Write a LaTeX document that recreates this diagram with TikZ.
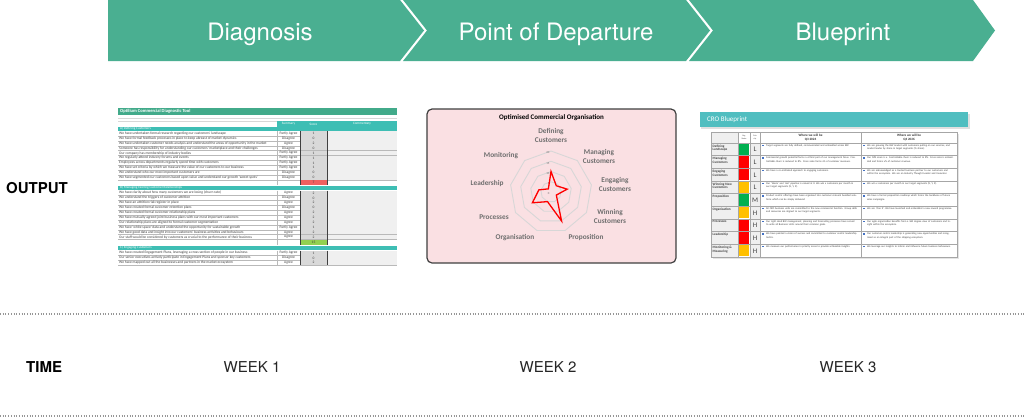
\documentclass[tikz,border=0pt]{standalone}
\usepackage{fontspec}
\setmainfont{TeX Gyre Heros}
\newfontfamily\xl{Carlito}
\definecolor{chev}{RGB}{74,175,145}
\definecolor{dtitle}{RGB}{66,170,138}
\definecolor{turq}{RGB}{62,190,180}
\definecolor{bptitle}{RGB}{80,190,192}
\definecolor{dotgray}{RGB}{150,150,150}
\definecolor{txtdark}{RGB}{64,64,64}
\definecolor{scoregray}{RGB}{217,217,217}
\definecolor{commgray}{RGB}{240,240,240}
\definecolor{gridgray}{RGB}{185,185,185}
\definecolor{pinkbg}{RGB}{250,224,227}
\definecolor{ringgray}{RGB}{215,215,215}
\definecolor{labgray}{RGB}{110,110,110}
\definecolor{totred}{RGB}{240,96,96}
\definecolor{totgreen}{RGB}{146,208,80}
\definecolor{stgreen}{RGB}{0,176,80}
\definecolor{stred}{RGB}{255,0,0}
\definecolor{stamber}{RGB}{255,192,0}
\definecolor{bulblue}{RGB}{68,114,196}
\definecolor{bplabfill}{RGB}{239,239,239}
\definecolor{bpgridc}{RGB}{166,166,166}

\newcommand\drow[5]{%
  \fill[scoregray] (300,#1) rectangle ++(27,4.9);
  \fill[commgray] (327,#1) rectangle ++(70,4.9);
  \draw[dgrid] (118,#1+4.9) -- (397,#1+4.9);
  \node[dtxt,anchor=west] (#2t) at (119,#1+2.45) {#3};
  \node[dtxt] (#2s) at (288.5,#1+2.45) {#4};
  \node[dtxt] (#2n) at (313.5,#1+2.45) {#5};
}
\newcommand\brow[7]{%
  \fill[bplabfill] (711,#1) rectangle (738,#1+12.67);
  \fill[#4] (738.7,#1+0.7) rectangle (749.3,#1+11.97);
  \fill[bplabfill] (750,#1) rectangle (760,#1+12.67);
  \node[bplabel] (#2l) at (712.5,#1+1.5) {#3};
  \node[bpprio] (#2p) at (755,#1+6.6) {#5};
  \node[bpbul] (#2b) at (763,#1+2.4) {};
  \node[bptext,text width=91pt] (#2a) at (766,#1+1.3) {#6};
  \node[bpbul] (#2c) at (864,#1+2.4) {};
  \node[bptext,text width=87pt] (#2d) at (867,#1+1.3) {#7};
}

\begin{document}
\begin{tikzpicture}[x=1pt,y=-1pt,
  chevtxt/.style={text=white,anchor=base,inner sep=0,font=\fontsize{24}{28}\selectfont},
  rowlab/.style={anchor=base west,inner sep=0,font=\bfseries\fontsize{15}{18}\selectfont},
  weeklab/.style={anchor=base,inner sep=0,font=\fontsize{15}{18}\selectfont,text=black!85},
  dotline/.style={draw=dotgray,line width=1.1pt,dash pattern=on 1pt off 1.7pt},
  dgrid/.style={draw=gridgray,line width=0.3pt},
  dtxt/.style={inner sep=0,font=\xl\fontsize{3.6}{4}\selectfont,text=txtdark},
  dhead/.style={inner sep=0,font=\xl\fontsize{3.4}{4}\selectfont,text=white},
  ring/.style={draw=ringgray,line width=0.9pt},
  radlab/.style={align=center,inner sep=0,font=\xl\bfseries\fontsize{7.3}{9}\selectfont,text=labgray},
  ticklab/.style={anchor=east,inner sep=0,font=\xl\fontsize{3}{3}\selectfont,text=labgray},
  bplabel/.style={anchor=north west,align=left,inner sep=0,font=\xl\bfseries\fontsize{3.4}{3.9}\selectfont,text=txtdark},
  bpprio/.style={inner sep=0,font=\xl\fontsize{7}{7}\selectfont,text=txtdark},
  bpbul/.style={fill=bulblue,inner sep=0,minimum size=1.2pt},
  bptext/.style={anchor=north west,align=left,inner sep=0,font=\xl\fontsize{2.6}{3.1}\selectfont,text=txtdark},
  bpgrid/.style={draw=bpgridc,line width=0.5pt},
  bphead/.style={align=center,inner sep=0,font=\xl\bfseries\fontsize{3.3}{3.9}\selectfont,text=black!80},
  bpsmall/.style={align=center,inner sep=0,font=\xl\fontsize{2}{2.4}\selectfont,text=txtdark}]
\useasboundingbox (0,0) rectangle (1024,418);
\fill[white] (0,0) rectangle (1024,418);

% ---------- chevrons ----------
\fill[chev] (108,0) -- (400,0) -- (424,30.5) -- (400,61) -- (108,61) -- cycle;
\fill[chev] (403,0) -- (686,0) -- (710,30.5) -- (686,61) -- (403,61) -- (427,30.5) -- cycle;
\fill[chev] (689,0) -- (973,0) -- (995,30.5) -- (973,61) -- (689,61) -- (713,30.5) -- cycle;
\node[chevtxt] (c1) at (260,40) {Diagnosis};
\node[chevtxt] (c2) at (556,40) {Point of Departure};
\node[chevtxt] (c3) at (843,40) {Blueprint};

% ---------- row labels ----------
\node[rowlab] (out) at (6,193) {OUTPUT};
\node[rowlab] (time) at (26,372) {TIME};
\node[weeklab] (w1) at (252,372) {WEEK 1};
\node[weeklab] (w2) at (548,372) {WEEK 2};
\node[weeklab] (w3) at (848,372) {WEEK 3};
\draw[dotline] (0,314) -- (1024,314);
\draw[dotline] (0,416) -- (1024,416);

% ---------- Diagnostic tool thumbnail ----------
\fill[dtitle] (118,108) rectangle (397,115);
\node[inner sep=0,anchor=west,font=\xl\bfseries\fontsize{4.6}{5}\selectfont,text=white] (dtt) at (120,111.5) {Optilium Commercial Diagnostic Tool};
\draw[draw=ringgray,line width=0.3pt] (118,118) -- (397,118) (118,121) -- (397,121);
\fill[turq] (277,121) rectangle (397,127);
\node[dhead] (dh1) at (288.5,124) {Summary};
\node[dhead] (dh2) at (313.5,124) {Score};
\node[dhead] (dh3) at (362,124) {Commentary};
% section A
\fill[turq] (118,127) rectangle (397,131);
\node[dhead,anchor=west] (dsa) at (120,129) {A) Defining Customers};
\foreach \t/\s/\n [count=\i from 0] in {
 We have undertaken formal research regarding our customers' landscape/Partly Agree/1,
 We have formal feedback processes in place to keep abreast of market dynamics/Disagree/0,
 We have undertaken customer needs analysis and understand the areas of opportunity in the market/Agree/2,
 Someone has responsibility for understanding our customers' marketplace and their challenges/Disagree/0,
 Our company has membership of industry bodies/Partly Agree/1,
 We regularly attend industry forums and events/Partly Agree/1,
 Employees across departments regularly spend time with customers/Partly Agree/1,
 We have set criteria by which we measure the value of our customers to our business/Partly Agree/1,
 We understand who our most important customers are/Disagree/0,
 We have segmented our customers based upon value and understand our growth 'sweet spots'/Disagree/0}
 {\pgfmathsetmacro\yy{131+4.9*\i}\drow{\yy}{dA\i}{\t}{\s}{\n}}
\fill[totred] (300,180) rectangle (327,185);
\node[dtxt] (dAtot) at (313.5,182.5) {7};
% section B
\fill[turq] (118,186) rectangle (397,190);
\node[dhead,anchor=west] (dsb) at (120,188) {B) Managing Existing Customer Relationships};
\foreach \t/\s/\n [count=\i from 0] in {
 We have clarity about how many customers we are losing (churn rate)/Agree/2,
 We understand the triggers of customer attrition/Disagree/0,
 We have an attrition risk register in place/Agree/2,
 We have created formal customer retention plans/Disagree/0,
 We have created formal customer relationship plans/Agree/2,
 We have mutually agreed joint business plans with our most important customers/Agree/2,
 Our relationship plans are aligned to formal customer segmentation/Agree/2,
 We have 'white space' data and understand the opportunity for sustainable growth/Partly Agree/1,
 We have good data and insight into our customers' business activities and behaviours/Agree/2,
 Our staff would be considered by customers as crucial to the performance of their business/Agree/2}
 {\pgfmathsetmacro\yy{190.5+4.9*\i}\drow{\yy}{dB\i}{\t}{\s}{\n}}
\fill[totgreen] (300,240) rectangle (327,245);
\node[dtxt] (dBtot) at (313.5,242.5) {15};
% section C
\fill[turq] (118,246) rectangle (397,250);
\node[dhead,anchor=west] (dsc) at (120,248) {C) Engaging Customers};
\foreach \t/\s/\n [count=\i from 0] in {
 {We have created Engagement Plans, leveraging a cross section of people in our business}/Partly Agree/1,
 Our senior executives actively participate in Engagement Plans and sponsor key customers/Disagree/0,
 We have mapped out all the businesses and partners in the market ecosystem/Agree/2}
 {\pgfmathsetmacro\yy{250.5+4.9*\i}\drow{\yy}{dC\i}{\t}{\s}{\n}}
\foreach \ya/\yb in {131/185,190.5/245,250.5/265.2}{
  \draw[dgrid] (277,\ya) -- (277,\yb);
  \draw[draw=txtdark,line width=0.6pt] (300,\ya) -- (300,\yb) (327,\ya) -- (327,\yb);
}

% ---------- Radar chart thumbnail ----------
\draw[rounded corners=5pt,line width=1.2pt,draw=black!75,fill=pinkbg] (427,109) rectangle (676,263);
\node[inner sep=0,font=\xl\bfseries\fontsize{7}{8}\selectfont] (rtitle) at (551.5,118) {Optimised Commercial Organisation};
\foreach \k in {1,2,3,4}{
  \pgfmathsetmacro\R{10.25*\k}
  \draw[ring] (551,192-\R) \foreach \j in {1,...,8}{ -- ({551+\R*cos(90-40*\j)},{192-\R*sin(90-40*\j)}) } -- cycle;
}
\foreach \v/\k in {0/0,5/1,10/2,15/3,20/4}{
  \node[ticklab] (tk\v) at (549.5,{194-10.25*\k}) {\v};
}
\draw[draw=red,line width=1.3pt,line join=miter] (551,{192-10*2.05})
  \foreach \v [count=\j] in {4,8,3,15,5,10.5,6,2}{ -- ({551+\v*2.05*cos(90-40*\j)},{192-\v*2.05*sin(90-40*\j)}) } -- cycle;
\node[radlab] (rl1) at (551,135.5) {Defining\\Customers};
\node[radlab] (rl2) at (599,156.5) {Managing\\Customers};
\node[radlab] (rl3) at (615,184.5) {Engaging\\Customers};
\node[radlab] (rl4) at (610,216.5) {Winning\\Customers};
\node[radlab] (rl5) at (586,238) {Proposition};
\node[radlab] (rl6) at (515,238) {Organisation};
\node[radlab] (rl7) at (494,217) {Processes};
\node[radlab] (rl8) at (487,184) {Leadership};
\node[radlab] (rl9) at (501,156) {Monitoring};

% ---------- Blueprint thumbnail ----------
\fill[black!12] (701,113.5) rectangle (969.5,128.5);
\fill[bptitle] (700,112) rectangle (968,127);
\node[inner sep=0,anchor=west,font=\xl\fontsize{7}{8}\selectfont,text=white] (bpt) at (707,119.5) {CRO Blueprint};
\fill[black!10] (712.5,133.5) rectangle (958.5,258.5);
\fill[white] (711,132) rectangle (957,257);
\fill[bplabfill] (711,132) rectangle (738,143);
\node[bpsmall] (bh1) at (744,137.5) {Org.\\Status};
\node[bpsmall] (bh2) at (755,137.5) {Prio\\rity};
\node[bphead] (bh3) at (810.5,137.5) {Where we will be\\Q3 2024};
\node[bphead] (bh4) at (909,137.5) {Where we will be\\Q4 2026};
\brow{143}{r1}{Defining\\Landscape}{stgreen}{L}{Target segments are fully defined, communicated and embedded across BW}{We are growing the BW market with customers pulling on our services, and market leader by share in target segments (\% share)}
\brow{155.67}{r2}{Managing\\Customers}{stred}{L}{Commercial growth potential forms a critical part of our management focus. Controllable churn is reduced to 8\%. Cross sales forms x\% of customer revenues.}{Our NPS score is x. Controllable churn is reduced to 8\%. Cross sales is embedded and forms x\% of customer revenue.}
\brow{168.33}{r3}{Engaging\\Customers}{stred}{L}{We have a co-ordinated approach to engaging customers.}{We are acknowledged as a trusted business partner to our customers and within the ecosystem. We are an Industry Thought Leader and Innovator.}
\brow{181}{r4}{Winning New\\Customers}{stamber}{L}{Our `Warm' and `Hot' pipeline is valued at X. We win x customers per month in our target segments (X, Y, Z).}{We win x customers per month in our target segments (X, Y, Z).}
\brow{193.67}{r5}{Proposition}{stgreen}{M}{Product centric offerings have been organised into customer relevant bundled solutions which can be simply delivered}{We have a formal proposition roadmap which forms the backbone of future sales campaigns.}
\brow{206.33}{r6}{Organisation}{stamber}{H}{All CRO business units are committed to the new commercial function. Group skills and resources are aligned to our target segments.}{We are `One X'. We have launched and embedded a new reward programme.}
\brow{219}{r7}{Processes}{stred}{H}{Our right sized BW management, planning and forecasting processes have served to unite all Business Units around their common goals.}{Our agile organisation benefits from a 360 degree view of customers and insight within the ecosystem.}
\brow{231.67}{r8}{Leadership}{stred}{H}{We have painted a vision of success and committed to customer centric leadership tactics.}{Our customer centric leadership is generating new opportunities and recognised as an integral part of the shipping ecosystem.}
\brow{244.33}{r9}{Monitoring \&\\Measuring}{stamber}{H}{We measure our performance in priority areas to provide actionable insights.}{We leverage our insights to inform and influence future business behaviours.}
\foreach \k in {0,...,8}{ \draw[bpgrid] (711,{143+12.67*\k}) -- (957,{143+12.67*\k}); }
\foreach \xx in {738,750,760,861}{ \draw[bpgrid] (\xx,132) -- (\xx,257); }
\draw[bpgrid,line width=0.8pt] (711,132) rectangle (957,257);
\end{tikzpicture}
\end{document}
